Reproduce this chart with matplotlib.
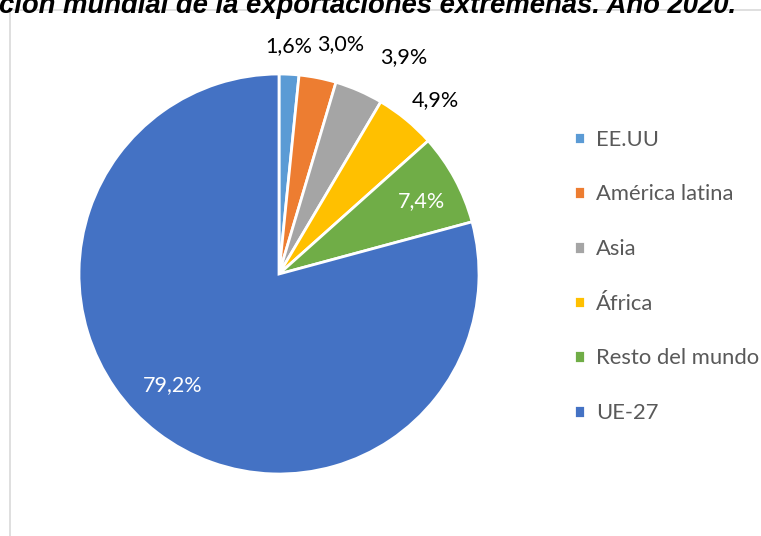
import numpy as np
import matplotlib.pyplot as plt
from matplotlib.patches import Rectangle

# data
regions = ["EE.UU", "América latina", "Asia", "África", "Resto del mundo", "UE-27"]
shares = [1.6, 3.0, 3.9, 4.9, 7.4, 79.2]
colors = ["#5B9BD5", "#ED7D31", "#A5A5A5", "#FFC000", "#70AD47", "#4472C4"]
title = "ción mundial de la exportaciones extremeñas. Año 2020."

# label placement (radius factor, angle shift in degrees), like Excel's best fit
label_r = [1.14, 1.19, 1.25, 1.17, 0.80, 0.77]
label_shift = [0.4, -3.9, -6.4, -2.5, -1.4, -6.3]
label_color = ["black", "black", "black", "black", "white", "white"]

plt.rcParams['font.family'] = ['Lato', 'DejaVu Sans']

fig = plt.figure(figsize=(7.61, 5.36), dpi=100)

# chart frame (cut by the image edges)
fig.patches.append(Rectangle((10 / 761, -0.2), 1.2, 1.2 - 10 / 536,
                             transform=fig.transFigure, fill=False,
                             edgecolor="#D9D9D9", lw=1.2))

# title is cut off at the top, as in the source image
fig.text(-0.001, 1 - 13 / 536, title, ha='left', va='baseline',
         fontsize=19.8, fontweight='bold', fontstyle='italic',
         family='Liberation Sans')

ax = fig.add_axes([79 / 761, (536 - 474) / 536, 400 / 761, 400 / 536])
wedges, _ = ax.pie(shares, colors=colors, startangle=90, counterclock=False,
                   radius=1, wedgeprops=dict(edgecolor='white', linewidth=2))
ax.set_xlim(-1, 1)
ax.set_ylim(-1, 1)
ax.set_aspect('equal')
ax.axis('off')

for w, v, r, s, c in zip(wedges, shares, label_r, label_shift, label_color):
    ang = np.deg2rad((w.theta1 + w.theta2) / 2 + s)
    ax.text(r * np.cos(ang), r * np.sin(ang), f"{v:.1f}%".replace('.', ','),
            ha='center', va='center', fontsize=15.5, color=c, clip_on=False)

leg = fig.legend(wedges, regions, loc='upper left',
                 bbox_to_anchor=(565 / 761, 1 - 121 / 536), frameon=False,
                 fontsize=15.8, labelcolor='#595959', handlelength=0.5,
                 handleheight=0.5, handletextpad=0.5, labelspacing=1.58,
                 borderaxespad=0)

fig.savefig("out.png", dpi=100)
